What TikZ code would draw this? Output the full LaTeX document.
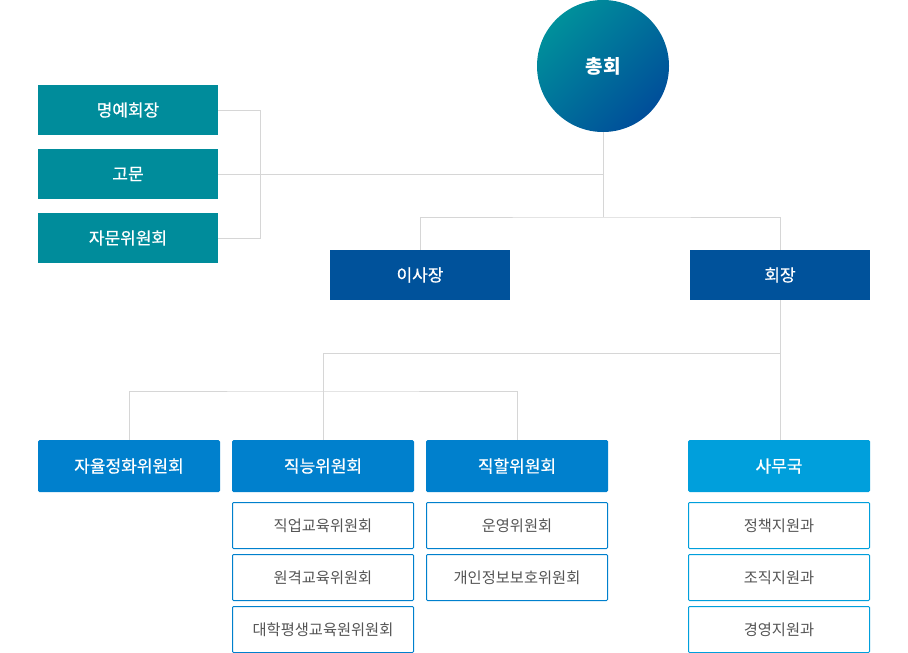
\documentclass[tikz,border=0pt]{standalone}
\usepackage{fontspec}
\setmainfont{Noto Sans CJK KR}
\newfontfamily\krhead[FakeBold=0.6]{Noto Sans CJK KR}
\definecolor{teal1}{HTML}{008C9B}
\definecolor{navy1}{HTML}{00529B}
\definecolor{blue1}{HTML}{0080CD}
\definecolor{sky1}{HTML}{009FDC}
\definecolor{circA}{HTML}{00909B}
\definecolor{circB}{HTML}{004E9A}
\definecolor{linec}{HTML}{D6D6D6}
\definecolor{txtg}{HTML}{555555}
\tikzset{
  box/.style={rectangle, inner sep=0pt, minimum width=180pt, minimum height=50pt, text=white, font=\krhead\fontsize{17}{19}\selectfont},
  tealbox/.style={box, fill=teal1},
  navybox/.style={box, fill=navy1},
  bluebox/.style={box, fill=blue1, minimum width=182pt, minimum height=52pt, rounded corners=1.5pt},
  skybox/.style={box, fill=sky1, minimum width=182pt, minimum height=52pt, rounded corners=1.5pt},
  subbox/.style={rectangle, inner sep=0pt, minimum width=181pt, minimum height=46pt, draw=blue1, line width=1pt, rounded corners=1pt, fill=white, text=txtg, font=\fontsize{15.3}{17}\selectfont},
  subsky/.style={subbox, draw=sky1},
  conn/.style={draw=linec, line width=1pt},
}
\begin{document}
\begin{tikzpicture}[x=1pt,y=-1pt]
\useasboundingbox (0,0) rectangle (908,653);
\coordinate (j1) at (603,217);
\coordinate (j2) at (780,353);
\coordinate (j3) at (323,391);
% top circle
\node[circle, inner sep=0pt, minimum size=132pt, top color=circA, bottom color=circB, shading angle=45, text=white, font=\fontsize{19}{21}\selectfont\bfseries] (top) at (603,66) {총회};
% left boxes
\node[tealbox] (m1) at (128,110) {명예회장};
\node[tealbox] (m2) at (128,174) {고문};
\node[tealbox] (m3) at (128,238) {자문위원회};
% second row
\node[navybox] (ceo) at (420,275) {이사장};
\node[navybox] (pres) at (780,275) {회장};
% third row
\node[bluebox] (ja) at (129,466) {자율정화위원회};
\node[bluebox] (jn) at (323,466) {직능위원회};
\node[bluebox] (jh) at (517,466) {직할위원회};
\node[skybox] (sec) at (779,466) {사무국};
% sub boxes
\node[subbox] (s1) at (323,525.5) {직업교육위원회};
\node[subbox] (s2) at (323,577.5) {원격교육위원회};
\node[subbox] (s3) at (323,629.5) {대학평생교육원위원회};
\node[subbox] (s4) at (517,525.5) {운영위원회};
\node[subbox] (s5) at (517,577.5) {개인정보보호위원회};
\node[subsky] (s6) at (779,525.5) {정책지원과};
\node[subsky] (s7) at (779,577.5) {조직지원과};
\node[subsky] (s8) at (779,629.5) {경영지원과};
% connectors
\draw[conn] (m1.east) -- ++(42,0) |- (m3.east);
\draw[conn] (m2.east) -- (m2.east -| top.south);
\draw[conn] (top.south) -- (j1);
\draw[conn] (ceo.north) |- (j1) -| (pres.north);
\draw[conn] (pres.south) -- (pres.south |- sec.north);
\draw[conn] (j2) -| (jn.north);
\draw[conn] (ja.north) |- (j3) -| (jh.north);
\end{tikzpicture}
\end{document}
